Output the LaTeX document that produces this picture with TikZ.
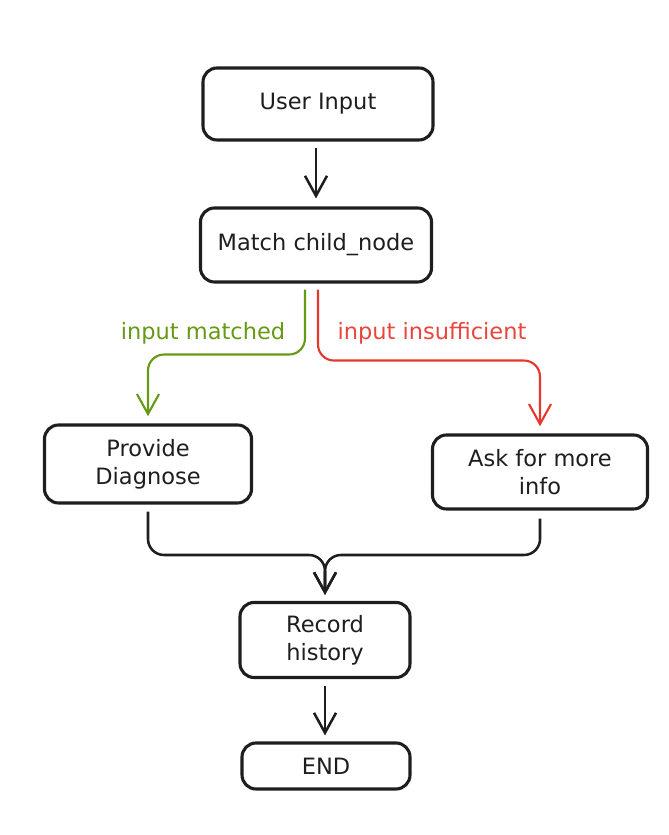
\documentclass[tikz,border=0pt]{standalone}
\usepackage{fontspec}
\setmainfont{DejaVu Sans}
\usetikzlibrary{arrows.meta}

\begin{document}
\begin{tikzpicture}[
    box/.style = {draw, color={rgb,255:red,30; green,30; blue,30}, fill=white, line width=2.2pt, rounded corners=0.35cm, align=center, inner sep=0pt, font=\fontsize{16}{20}\selectfont},
    flow/.style = {line width=1.8pt, color={rgb,255:red,30; green,30; blue,30}, rounded corners=0.4cm, -{Straight Barb[length=0.5cm,width=0.55cm]}},
    lbl/.style = {font=\fontsize{16}{20}\selectfont},
  ]
    \useasboundingbox (0,0) rectangle (16.725,20.875);

    \node [box, minimum width=5.75cm, minimum height=1.8cm] (userinput) at (7.95,18.275) {User Input};
    \node [box, minimum width=5.775cm, minimum height=1.85cm] (match) at (7.9,14.75) {Match child\_node};
    \node [box, minimum width=5.175cm, minimum height=1.95cm] (provide) at (3.7,9.275) {Provide\\Diagnose};
    \node [box, minimum width=5.375cm, minimum height=1.85cm] (ask) at (13.5,9.075) {Ask for more\\info};
    \node [box, minimum width=4.25cm, minimum height=1.875cm] (record) at (8.125,4.875) {Record\\history};
    \node [box, minimum width=4.2cm, minimum height=1.15cm] (end) at (8.15,1.725) {END};

    \node [lbl, color={rgb,255:red,102; green,153; blue,20}] (matched) at (5.075,12.55) {input matched};
    \node [lbl, color={rgb,255:red,232; green,70; blue,60}] (insufficient) at (10.8,12.55) {input insufficient};

    \coordinate (join) at (8.125,7.0);

    \draw [flow] ([yshift=-0.15cm]match.north |- userinput.south) -- ([yshift=0.2cm]match.north);
    \draw [flow, line width=1.5pt, color={rgb,255:red,102; green,153; blue,20}] ([xshift=-0.275cm,yshift=-0.15cm]match.south) -- ++(0,-1.625) -| ([yshift=0.18cm]provide.north);
    \draw [flow, line width=1.5pt, color={rgb,255:red,230; green,55; blue,45}] ([xshift=0.05cm,yshift=-0.15cm]match.south) -- ++(0,-1.775) -| ([yshift=0.18cm]ask.north);
    \draw [flow] ([yshift=-0.18cm]provide.south) |- (join) -- ([yshift=0.15cm]record.north);
    \draw [flow] ([yshift=-0.2cm]ask.south) |- (join) -- ([yshift=0.15cm]record.north);
    \draw [flow] ([yshift=-0.18cm]record.south) -- ([yshift=0.15cm]record.south |- end.north);

\end{tikzpicture}
\end{document}
